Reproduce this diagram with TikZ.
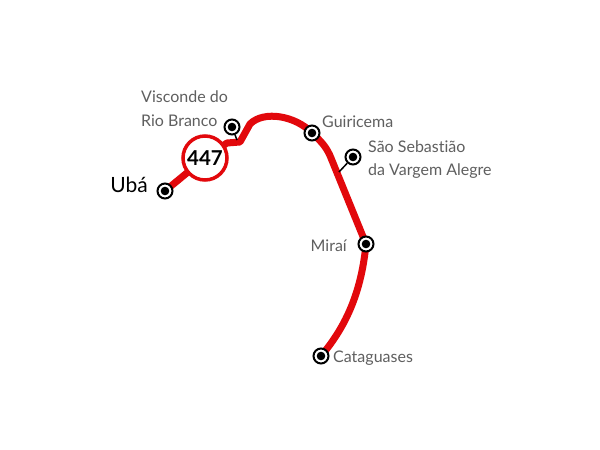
\documentclass[tikz,border=0pt]{standalone}
\usepackage{fontspec}
\setmainfont{Lato}[Ligatures=NoCommon]
\definecolor{routered}{RGB}{226,8,12}
\definecolor{labelgray}{RGB}{95,95,95}
\begin{document}
\begin{tikzpicture}[x=1pt,y=-1pt,
  station/.style={circle, fill=white, draw=black, line width=2pt, minimum size=15pt, inner sep=0pt,
    path picture={\fill[black] (path picture bounding box.center) circle (4.3pt);}},
  route/.style={routered, line width=7pt, line join=round, line cap=round},
  tick/.style={black, line width=1.5pt},
  lbl/.style={text=labelgray, font=\fontsize{16}{19}\selectfont, inner sep=0pt},
  shield/.style={circle, draw=routered, fill=white, line width=3.5pt, minimum size=44pt, inner sep=0pt,
    font=\fontsize{20.5}{24}\selectfont\bfseries}]
\useasboundingbox (0,0) rectangle (600,450);
\fill[white] (0,0) rectangle (600,450);
% coordinates
\coordinate (uba) at (165,191);
\coordinate (sh) at (205,158);
\coordinate (k1) at (227,143);
\coordinate (k2) at (240,142);
\coordinate (k3) at (250,124);
\coordinate (gui) at (312,133);
\coordinate (g2) at (331,158);
\coordinate (mir) at (366,244);
\coordinate (cat) at (321,356);
\coordinate (vtick) at (237,140);
\coordinate (stick) at (339,172);
% route
\draw[route] (uba) -- (sh) -- (k1) -- (k2) -- (k3)
  .. controls (264,110) and (296,116) .. (gui)
  .. controls (322,142) and (327,148) .. (g2)
  -- (mir)
  .. controls (362,285) and (350,322) .. (cat);
% stations
\node[station] (sUba) at (uba) {};
\node[station] (sVis) at (232,127) {};
\node[station] (sGui) at (gui) {};
\node[station] (sSao) at (353,157) {};
\node[station] (sMir) at (mir) {};
\node[station] (sCat) at (cat) {};
\draw[tick] (sVis) -- (vtick);
\draw[tick] (sSao) -- (stick);
% shield
\node[shield] (shield) at (sh) {447};
% labels
\node[font=\fontsize{21}{24}\selectfont, inner sep=0pt, anchor=east] (lUba) at (148,185) {Ubá};
\node[lbl, anchor=west] (lVis1) at (141,97) {Visconde do};
\node[lbl, anchor=west] (lVis2) at (141,121) {Rio Branco};
\node[lbl, anchor=west] (lGui) at (322,122) {Guiricema};
\node[lbl, anchor=west] (lSao1) at (368,147) {São Sebastião};
\node[lbl, anchor=west] (lSao2) at (368,171) {da Vargem Alegre};
\node[lbl, anchor=east] (lMir) at (347,246) {Miraí};
\node[lbl, anchor=west] (lCat) at (333,358) {Cataguases};
\end{tikzpicture}
\end{document}
